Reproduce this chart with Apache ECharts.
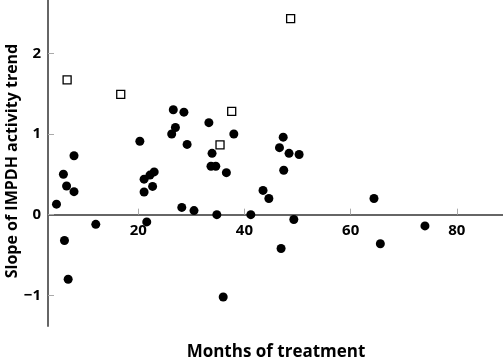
<!DOCTYPE html>
<html>
<head>
<meta charset="utf-8">
<script src="https://cdn.jsdelivr.net/npm/echarts@6/dist/echarts.min.js"></script>
<style>
  html, body { margin: 0; padding: 0; background: #fff; }
  #chart { width: 503px; height: 362px; }
</style>
</head>
<body>
<div id="chart"></div>
<script>
  // filled circles: [months, slope]
  var circleMonths = [4.6, 5.9, 6.5, 7.9, 7.9, 6.1, 6.8, 12.0,
    20.3, 21.1, 21.1, 21.6, 22.7, 22.2, 23.0,
    26.6, 27.0, 26.3, 28.6, 29.2, 28.2, 30.5,
    33.3, 33.9, 33.7, 34.6, 34.8, 36.0, 36.6, 38.0, 41.2,
    43.5, 44.6, 47.3, 46.6, 48.4, 50.3, 47.4, 49.3, 46.9,
    64.4, 65.6, 74.0];
  var circleSlope = [0.13, 0.50, 0.355, 0.73, 0.285, -0.32, -0.80, -0.12,
    0.91, 0.44, 0.28, -0.09, 0.35, 0.49, 0.53,
    1.30, 1.08, 1.00, 1.27, 0.87, 0.09, 0.05,
    1.14, 0.76, 0.60, 0.60, 0.00, -1.02, 0.52, 1.00, 0.00,
    0.30, 0.20, 0.96, 0.83, 0.76, 0.745, 0.55, -0.06, -0.42,
    0.20, -0.36, -0.14];
  // open squares
  var squareMonths = [6.6, 16.7, 35.4, 37.6, 48.7];
  var squareSlope = [1.67, 1.49, 0.865, 1.28, 2.43];

  var xTicks = [20, 40, 60, 80];
  var yTicks = [-1, 0, 1, 2];

  var xMin = 3, xMax = 88.7;
  var yMin = -1.38, yMax = 2.66;

  function pairs(xs, ys) {
    return xs.map(function (x, i) { return [x, ys[i]]; });
  }

  var font = '"Open Sans", Lato, sans-serif';
  var plotH = 362 - 36;
  // second grid ends where y = 0, so its x axis sits on the zero line
  var zeroH = plotH * yMax / (yMax - yMin);

  var myChart = echarts.init(document.getElementById('chart'));
  myChart.setOption({
    animation: false,
    grid: [
      { left: 48, right: 0, top: 0, height: plotH },
      { left: 48, right: 0, top: 0, height: zeroH }
    ],
    xAxis: [
      {
        type: 'value', gridIndex: 0, min: xMin, max: xMax,
        splitLine: { show: false },
        axisLine: { show: false },
        axisTick: { show: false },
        axisLabel: { show: false }
      },
      {
        type: 'value', gridIndex: 1, min: xMin, max: xMax,
        splitLine: { show: false },
        axisLine: { onZero: false, lineStyle: { color: '#666', width: 2 } },
        axisTick: { inside: true, length: 6, customValues: xTicks, lineStyle: { color: '#aaa', width: 1 } },
        axisLabel: { customValues: xTicks, margin: 9, color: '#000', fontWeight: 'bold', fontSize: 15, fontFamily: font }
      }
    ],
    yAxis: [
      {
        type: 'value', gridIndex: 0, min: yMin, max: yMax,
        splitLine: { show: false },
        axisLine: { onZero: false, lineStyle: { color: '#666', width: 2 } },
        axisTick: { inside: true, length: 6, customValues: yTicks, lineStyle: { color: '#aaa', width: 1 } },
        axisLabel: {
          customValues: yTicks, margin: 7, color: '#000', fontWeight: 'bold', fontSize: 15, fontFamily: font,
          formatter: function (v) { return String(v).replace('-', '\u2212'); }
        }
      },
      {
        type: 'value', gridIndex: 1, min: 0, max: yMax, show: false
      }
    ],
    graphic: [
      {
        type: 'text', x: 276, y: 352,
        style: { text: 'Months of treatment', fill: '#000', font: 'bold 17px ' + font, align: 'center', verticalAlign: 'middle' }
      },
      {
        type: 'text', x: 12, y: 161, rotation: Math.PI / 2,
        style: { text: 'Slope of IMPDH activity trend', fill: '#000', font: 'bold 16px ' + font, align: 'center', verticalAlign: 'middle' }
      }
    ],
    series: [
      {
        type: 'scatter', xAxisIndex: 0, yAxisIndex: 0,
        data: pairs(circleMonths, circleSlope),
        symbol: 'circle',
        symbolSize: 9,
        itemStyle: { color: '#000', opacity: 1 }
      },
      {
        type: 'scatter', xAxisIndex: 0, yAxisIndex: 0,
        data: pairs(squareMonths, squareSlope),
        symbol: 'rect',
        symbolSize: 8,
        itemStyle: { color: '#fff', borderColor: '#000', borderWidth: 1.3, opacity: 1 }
      }
    ]
  });
</script>
</body>
</html>
